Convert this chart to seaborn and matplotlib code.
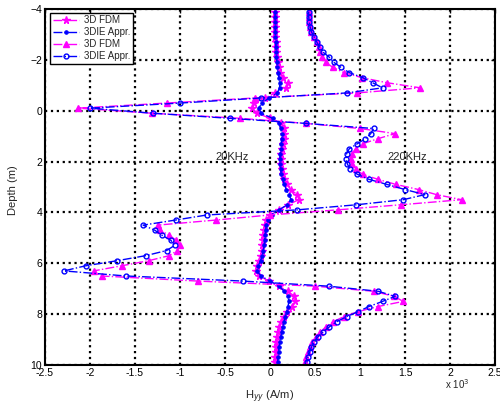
import numpy as np
import matplotlib
matplotlib.use("Agg")
import matplotlib.pyplot as plt
import seaborn as sns

# -----------------------------
# Data (depth in m, Hyy in 10^3 A/m)
# -----------------------------

depth = [-3.9, -3.7, -3.5, -3.3, -3.1, -2.9, -2.7, -2.5, -2.3, -2.1,
         -1.9, -1.7, -1.5, -1.3, -1.1, -0.9, -0.7, -0.5, -0.3, -0.1,
         0.1, 0.3, 0.5, 0.7, 0.9, 1.1, 1.3, 1.5, 1.7, 1.9,
         2.1, 2.3, 2.5, 2.7, 2.9, 3.1, 3.3, 3.5, 3.7, 3.9,
         4.1, 4.3, 4.5, 4.7, 4.9, 5.1, 5.3, 5.5, 5.7, 5.9,
         6.1, 6.3, 6.5, 6.7, 6.9, 7.1, 7.3, 7.5, 7.7, 7.9,
         8.1, 8.3, 8.5, 8.7, 8.9, 9.1, 9.3, 9.5, 9.7, 9.9]

fdm_20k = [0.05, 0.05, 0.052, 0.054, 0.056, 0.06, 0.062, 0.066, 0.07, 0.075,
           0.09, 0.1, 0.11, 0.14, 0.2, 0.18, 0.06, -0.06, -0.18, -0.2,
           -0.14, 0.0, 0.12, 0.15, 0.16, 0.15, 0.14, 0.13, 0.125, 0.12,
           0.125, 0.13, 0.14, 0.16, 0.19, 0.23, 0.3, 0.32, 0.2, 0.1,
           0.0, -0.04, -0.06, -0.07, -0.075, -0.08, -0.085, -0.09, -0.1, -0.12,
           -0.15, -0.16, -0.12, -0.01, 0.1, 0.2, 0.27, 0.28, 0.24, 0.19,
           0.15, 0.12, 0.1, 0.085, 0.075, 0.07, 0.065, 0.062, 0.06, 0.06]

ie_20k = [0.056, 0.056, 0.057, 0.058, 0.059, 0.061, 0.063, 0.065, 0.068, 0.072,
          0.077, 0.083, 0.09, 0.1, 0.108, 0.107, 0.08, -0.01, -0.09, -0.125,
          -0.1, 0.03, 0.1, 0.12, 0.13, 0.13, 0.125, 0.12, 0.115, 0.11,
          0.112, 0.118, 0.125, 0.14, 0.16, 0.18, 0.21, 0.235, 0.19, 0.1,
          0.02, -0.02, -0.04, -0.05, -0.055, -0.06, -0.065, -0.075, -0.085, -0.105,
          -0.13, -0.145, -0.1, 0.0, 0.1, 0.16, 0.2, 0.21, 0.2, 0.185,
          0.17, 0.155, 0.14, 0.13, 0.12, 0.11, 0.1, 0.095, 0.09, 0.085]

fdm_220k = [0.43, 0.43, 0.435, 0.445, 0.46, 0.49, 0.52, 0.54, 0.56, 0.58,
            0.62, 0.7, 0.82, 1.02, 1.3, 1.67, 0.97, -0.17, -1.15, -2.13,
            -1.31, -0.33, 0.4, 1.0, 1.39, 1.2, 1.03, 0.95, 0.91, 0.9,
            0.91, 0.95, 1.03, 1.2, 1.4, 1.65, 1.85, 2.13, 1.45, 0.75,
            0.0, -0.6, -1.25, -1.22, -1.12, -1.04, -1.0, -1.03, -1.12, -1.35,
            -1.65, -1.96, -1.87, -0.8, 0.5, 1.15, 1.38, 1.48, 1.2, 0.98,
            0.82, 0.7, 0.62, 0.56, 0.51, 0.47, 0.44, 0.42, 0.4, 0.39]

ie_220k = [0.43, 0.43, 0.435, 0.445, 0.46, 0.49, 0.52, 0.55, 0.59, 0.66,
           0.71, 0.79, 0.88, 1.03, 1.14, 1.25, 0.86, -0.1, -1.0, -2.0,
           -1.3, -0.45, 0.4, 1.15, 1.12, 1.06, 0.97, 0.88, 0.85, 0.845,
           0.86, 0.89, 0.97, 1.1, 1.3, 1.5, 1.72, 1.48, 0.96, 0.3,
           -0.7, -1.05, -1.41, -1.28, -1.2, -1.1, -1.06, -1.15, -1.38, -1.7,
           -2.05, -2.29, -1.6, -0.3, 0.65, 1.2, 1.39, 1.25, 1.1, 0.98,
           0.85, 0.74, 0.66, 0.59, 0.53, 0.49, 0.46, 0.44, 0.42, 0.41]

# -----------------------------
# Style
# -----------------------------

sns.set_style("white")
plt.rcParams["font.family"] = ["Liberation Sans", "DejaVu Sans"]

fig = plt.figure(figsize=(5.0, 4.08), dpi=100)
ax = fig.add_axes([0.09, 0.1054, 0.9, 0.8726])

magenta = "#FF00FF"
blue = "#0000FF"

sns.lineplot(x=fdm_20k, y=depth, sort=False, estimator=None, ax=ax,
             color=magenta, linestyle="-.", linewidth=1.0, marker="*",
             markersize=5.5, markeredgewidth=1.0, markeredgecolor=magenta,
             label="3D FDM")
sns.lineplot(x=ie_20k, y=depth, sort=False, estimator=None, ax=ax,
             color=blue, linestyle="-.", linewidth=1.0, marker=".",
             markersize=5, markeredgecolor=blue, label="3DIE Appr.")
sns.lineplot(x=fdm_220k, y=depth, sort=False, estimator=None, ax=ax,
             color=magenta, linestyle="-.", linewidth=1.0, marker="^",
             markersize=4, markeredgewidth=1.0, markeredgecolor=magenta,
             label="3D FDM")
sns.lineplot(x=ie_220k, y=depth, sort=False, estimator=None, ax=ax,
             color=blue, linestyle="-.", linewidth=1.0, marker="o",
             markersize=3.5, markerfacecolor="none", markeredgewidth=1.0,
             markeredgecolor=blue, label="3DIE Appr.")

# -----------------------------
# Axes
# -----------------------------

ax.set_xlim(-2.5, 2.5)
ax.set_ylim(10, -4)
ax.set_xticks(np.arange(-2.5, 2.51, 0.5))
ax.set_xticklabels(["-2.5", "-2", "-1.5", "-1", "-0.5", "0", "0.5", "1", "1.5", "2", "2.5"])
ax.set_yticks([-4, -2, 0, 2, 4, 6, 8, 10])
ax.tick_params(direction="in", length=3, width=1, labelsize=7.5,
               top=True, right=True, colors="black", pad=2)
ax.grid(True, color="black", linestyle=":", linewidth=1.6)
for sp in ax.spines.values():
    sp.set_color("black")
    sp.set_linewidth(1.5)

ax.set_xlabel(r"H$_{yy}$ (A/m)", fontsize=8)
ax.set_ylabel("Depth (m)", fontsize=8)
ax.xaxis.set_label_coords(0.5, -0.065)
ax.yaxis.set_label_coords(-0.06, 0.49)

ax.text(-0.61, 1.82, "20KHz", fontsize=8, va="center", ha="left")
ax.text(1.3, 1.82, "220KHz", fontsize=8, va="center", ha="left")
fig.text(0.89, 0.058, r"x 10$^3$", fontsize=7, va="center")

leg = ax.legend(loc="upper left", bbox_to_anchor=(0.011, 0.99), fontsize=7,
                frameon=True, fancybox=False, framealpha=1, borderpad=0.3,
                labelspacing=0.2, handlelength=2.7, handletextpad=0.5,
                borderaxespad=0)
leg.get_frame().set_edgecolor("black")
leg.get_frame().set_linewidth(1.0)

fig.savefig("out.png", dpi=100)
